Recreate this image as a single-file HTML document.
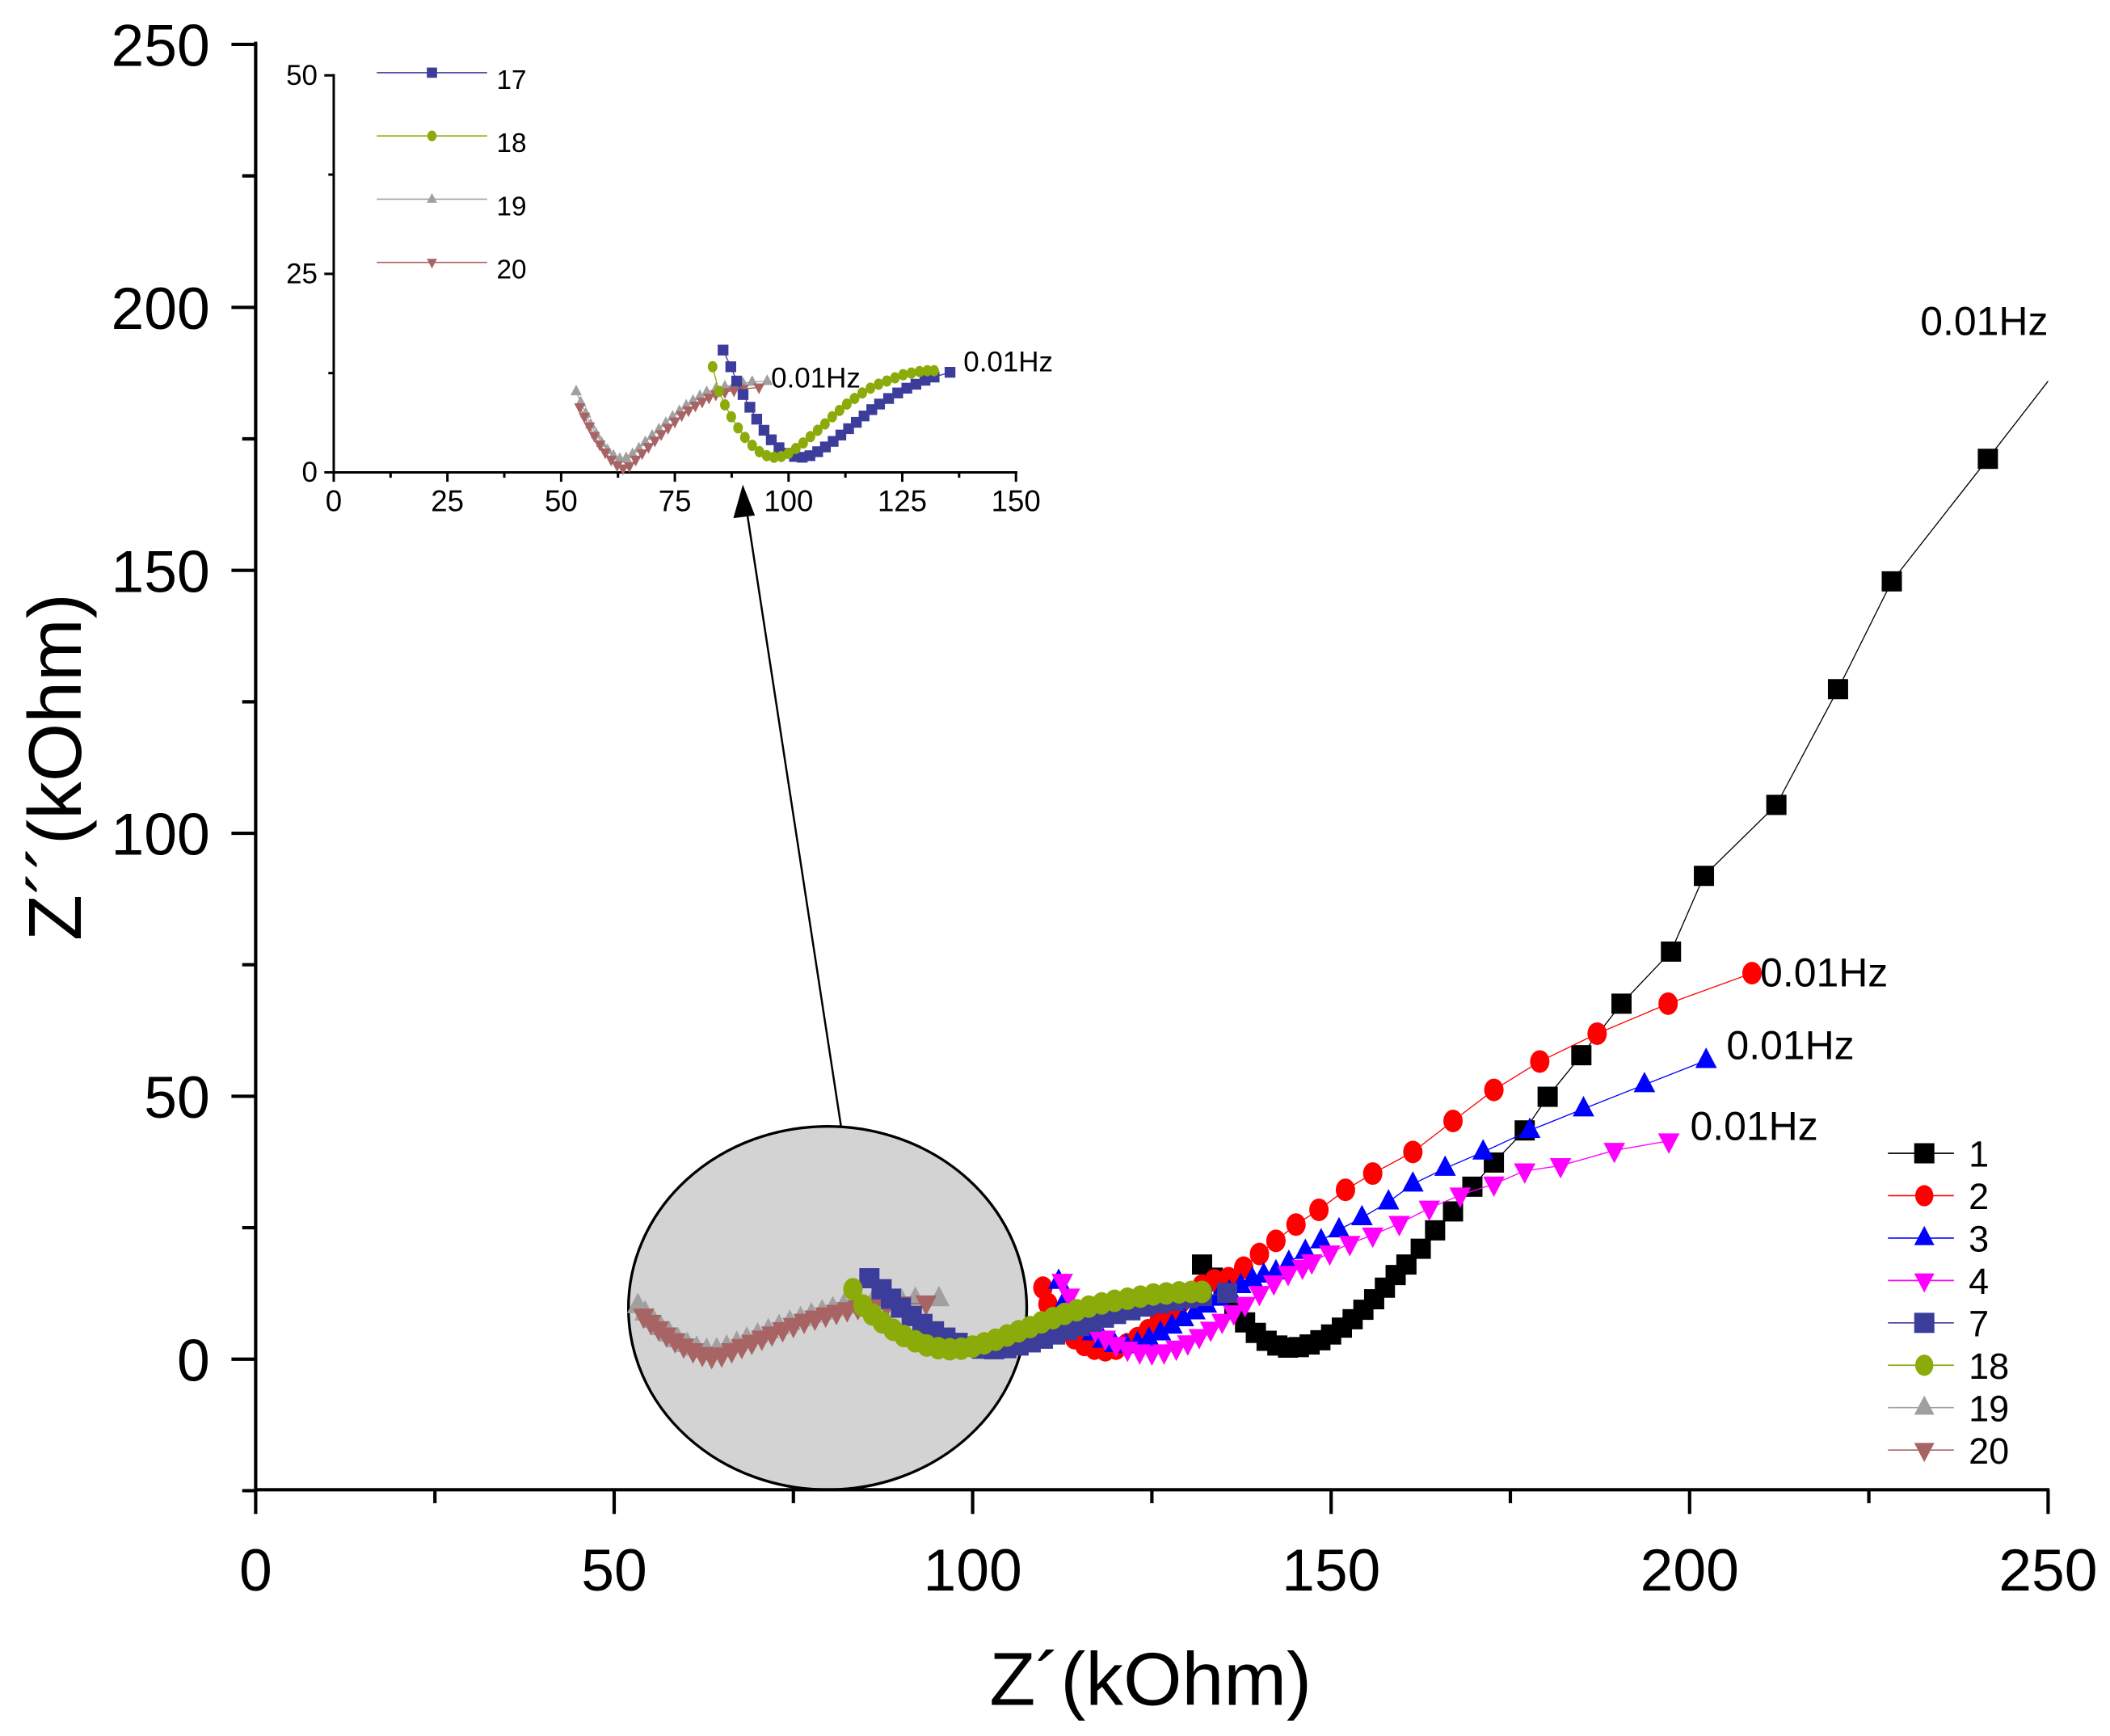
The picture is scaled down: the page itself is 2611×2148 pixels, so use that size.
<!DOCTYPE html>
<html><head><meta charset="utf-8"><style>
html,body{margin:0;padding:0;background:#fff}
svg{display:block}
text{font-family:"Liberation Sans",Arial,sans-serif}
</style></head><body>
<svg id="chart" width="2611" height="2148" viewBox="0 0 1568 1290" preserveAspectRatio="none" xmlns="http://www.w3.org/2000/svg">
<defs><clipPath id="mainclip"><rect x="190" y="20" width="1332" height="1087"/></clipPath></defs>
<g id="main"></g>
<g id="inset"></g>
</svg>
<script>
// ---- data ----
const s1x=[132,133.5,135,136.5,138,139.5,141,142.5,144,145.5,147,148.5,150,151.5,153,154.5,156,157.5,159,160.5,162.5,164.5,167,169.7,172.7,177,180.2,184.9,190.5,197.4,202,212.1,220.7,228.2,241.6,254];
const s1y=[18,15.5,12.5,9.5,7,5,3.5,2.6,2.2,2.3,2.8,3.6,4.7,6,7.6,9.4,11.4,13.6,16,18,21,24.5,28.1,32.8,37.4,43.5,49.9,57.8,67.6,77.5,91.9,105.4,127.4,147.9,171.2,193];
const s2x=[109.8,110.5,111.5,112.8,114.2,115.6,117,118.5,120,121.5,123,124.5,126,127.5,129,130.5,132,133.7,135.7,137.8,140,142.3,145.1,148.3,152,155.8,161.4,167,172.7,179.1,187.1,197,208.7];
const s2y=[13.6,10.5,8,5.8,4,2.7,2,1.7,2,2.8,4,5.5,7.2,9,10.8,12.5,14,15,15.4,17.4,20,22.5,25.6,28.4,32.2,35.3,39.4,45.3,51.2,56.6,61.9,67.6,73.4];
const s3x=[112,113,114,115.3,116.7,118.2,119.8,121.4,123,124.6,126.2,127.8,129.4,131,132.6,134.2,135.8,137.4,139,140.6,142.3,144.1,146.4,148.6,151.1,154.3,158,161.4,165.9,171.2,177.7,185.2,193.7,202.3];
const s3y=[14.8,11.5,9,6.8,5,3.6,2.8,2.6,3,3.8,5,6.3,7.7,9,10.3,11.6,12.8,14,15.2,16,16.6,18.4,20.5,22.5,24.6,26.9,29.9,33.3,36.3,39.4,43.5,47.6,52.2,56.8];
const s4x=[112.5,113.5,114.6,115.8,117.1,118.5,120,121.6,123.3,125,126.7,128.4,130,131.6,133.2,134.8,136.4,138,140,142,144,146,147.3,149.8,152.6,155.8,159.5,163.7,168,172.7,177,182,189.5,197.1];
const s4y=[14.8,12,9.5,7.3,5.5,4,2.8,1.9,1.4,1.2,1.4,2.1,3.1,4.3,5.7,7.2,8.8,10.4,12.5,14.5,16.3,17.5,18.5,20.2,22,23.6,25.8,28.7,31.2,33.3,35.8,36.8,39.7,41.5];
const s7x=[85.6,87.3,88.6,90,91.5,93,94.6,96.2,97.9,99.6,101.3,103,104.7,106.4,108.1,109.8,111.5,113.2,114.9,116.6,118.3,120,122,124,126,128,130,132,135.5];
const s7y=[15.4,13.3,11.5,9.8,8.2,6.7,5.3,4.1,3.1,2.4,2,1.9,2.1,2.6,3.2,3.9,4.7,5.5,6.3,7.1,7.9,8.6,9.3,10,10.6,11.1,11.6,12,12.6];
const s18x=[83.3,84.7,86,87.4,88.9,90.4,92,93.6,95.2,96.8,98.4,100,101.6,103.2,104.8,106.4,108,109.6,111.2,112.8,114.5,116.2,118,119.8,121.6,123.4,125.2,127,128.8,130.5,132];
const s18y=[13.3,10.2,8.5,7,5.6,4.4,3.4,2.6,2.1,1.9,2,2.4,3,3.7,4.5,5.3,6.1,7,7.8,8.6,9.3,10,10.6,11.1,11.5,11.9,12.3,12.5,12.7,12.8,12.8];
const s19x=[53.3,54.3,55.4,56.5,57.7,58.9,60.2,61.5,62.9,64.3,65.7,67.1,68.5,70,71.5,73,74.5,76,77.5,79,80.5,82,84,86,88,90,92,95.3];
const s19y=[10.2,8.8,7.4,6,4.8,3.7,2.8,2.1,1.7,1.8,2.3,3,3.8,4.6,5.4,6.2,7,7.7,8.4,9,9.6,10.1,10.5,10.8,11,11.2,11.4,11.5];
const s20x=[54.1,55.1,56.2,57.3,58.5,59.7,61,62.3,63.6,65,66.4,67.8,69.2,70.6,72,73.5,75,76.5,78,79.5,81,82.5,84,86,88,90,93.5];
const s20y=[8.2,7,5.8,4.6,3.5,2.5,1.6,0.9,0.5,0.8,1.6,2.4,3.2,4,4.8,5.6,6.4,7.2,7.8,8.4,8.9,9.4,9.8,10.1,10.3,10.5,10.7];
const xTicks=[0,50,100,150,200,250];
const yTicks=[0,50,100,150,200,250];
const insetXTicks=[0,25,50,75,100,125,150];
const insetYTicks=[0,25,50];

const NS='http://www.w3.org/2000/svg';
function mk(tag,attrs,parent,txt){const e=document.createElementNS(NS,tag);for(const k in attrs)e.setAttribute(k,attrs[k]);if(txt!==undefined)e.textContent=txt;parent.appendChild(e);return e;}
const main=document.getElementById('main');
const inset=document.getElementById('inset');

const sx=v=>190+v*(1332/250);
const sy=v=>1010-v*(977/250);
const ix=v=>248+v*(507/150);
const iy=v=>351-v*(295/50);

function marker(g,shape,x,y,r,color){
  let e;
  if(shape==='square') e=mk('rect',{x:x-r,y:y-r,width:2*r,height:2*r,fill:color},g);
  else if(shape==='circle') e=mk('ellipse',{cx:x,cy:y,rx:r*0.9,ry:r*1.05,fill:color},g);
  else if(shape==='up') e=mk('polygon',{points:`${x},${y-r*1.2} ${x-r},${y+r*0.7} ${x+r},${y+r*0.7}`,fill:color},g);
  else e=mk('polygon',{points:`${x},${y+r*1.2} ${x-r},${y-r*0.7} ${x+r},${y-r*0.7}`,fill:color},g);
  return e;
}
function series(parent,name,xs,ys,fx,fy,shape,color,r,clip){
  const g=mk('g',{},parent);
  
  
  if(clip) g.setAttribute('clip-path','url(#mainclip)');
  const pts=xs.map((v,i)=>fx(v)+','+fy(ys[i])).join(' ');
  const l=mk('polyline',{points:pts,fill:'none',stroke:color,'stroke-width':0.8},g);
  
  
  xs.forEach((v,i)=>{const m=marker(g,shape,fx(v),fy(ys[i]),r,color);
    
    });
}

const ell=mk('ellipse',{cx:615,cy:972,rx:148,ry:135,fill:'#d3d3d3',stroke:'#000','stroke-width':2},main);


const arr=mk('line',{x1:625,y1:837,x2:555,y2:380,stroke:'#000','stroke-width':1.5},main);


const ah=mk('polygon',{points:'552,360 545,385 561,383',fill:'#000'},main);



const ax=mk('g',{stroke:'#000','stroke-width':2.5,fill:'none'},main);


mk('line',{x1:190,y1:31,x2:190,y2:1108},ax);
mk('line',{x1:189,y1:1107,x2:1523,y2:1107},ax);
for(let v=-25;v<=250;v+=25){const y=sy(v);mk('line',{x1:v%50===0?172:180,y1:y,x2:190,y2:y},ax);}
for(let v=0;v<=250;v+=25){const x=sx(v);mk('line',{x1:x,y1:1107,x2:x,y2:v%50===0?1125:1117},ax);}
yTicks.forEach(v=>{const t=mk('text',{x:156,y:sy(v)+16,'font-size':44,'text-anchor':'end'},main,String(v));
  });
xTicks.forEach(v=>{const t=mk('text',{x:sx(v),y:1182,'font-size':44,'text-anchor':'middle'},main,String(v));
  });
const xt=mk('text',{x:855,y:1267,'font-size':56,'text-anchor':'middle'},main,'Z´(kOhm)');

const yt=mk('text',{x:0,y:0,'font-size':56,'text-anchor':'middle',transform:'translate(60,570) rotate(-90)'},main,'Z´´(kOhm)');


series(main,'series-19',s19x,s19y,sx,sy,'up','#a0a0a0',8,true);
series(main,'series-20',s20x,s20y,sx,sy,'down','#a86464',8,true);
series(main,'series-1',s1x,s1y,sx,sy,'square','#000000',7.5,true);
series(main,'series-2',s2x,s2y,sx,sy,'circle','#ff0000',8,true);
series(main,'series-3',s3x,s3y,sx,sy,'up','#0000ff',8,true);
series(main,'series-4',s4x,s4y,sx,sy,'down','#ff00ff',8,true);
series(main,'series-7',s7x,s7y,sx,sy,'square','#3c3c9a',7.5,true);
series(main,'series-18',s18x,s18y,sx,sy,'circle','#8aab0a',8,true);

[[1427,249,'0.01Hz'],[1308,733,'0.01Hz'],[1283,787,'0.01Hz'],[1256,847,'0.01Hz']].forEach(a=>{
  const t=mk('text',{x:a[0],y:a[1],'font-size':30},main,a[2]);
  });

const legItems=[['1','square','#000000'],['2','circle','#ff0000'],['3','up','#0000ff'],['4','down','#ff00ff'],['7','square','#3c3c9a'],['18','circle','#8aab0a'],['19','up','#a0a0a0'],['20','down','#a86464']];
const leg=mk('g',{},main);

legItems.forEach((it,i)=>{const y=857+i*31.5;
  const g=mk('g',{},leg);
  
  mk('line',{x1:1403,y1:y,x2:1452,y2:y,stroke:it[2],'stroke-width':1},g);
  marker(g,it[1],1430,y,7.5,it[2]);
  mk('text',{x:1463,y:y+10,'font-size':27},g,it[0]);});

const iax=mk('g',{stroke:'#000','stroke-width':1.8,fill:'none'},inset);

mk('line',{x1:248,y1:55,x2:248,y2:352},iax);
mk('line',{x1:247,y1:351,x2:756,y2:351},iax);
for(let v=0;v<=50;v+=12.5){const y=iy(v);mk('line',{x1:v%25===0?241:244,y1:y,x2:248,y2:y},iax);}
for(let v=0;v<=150;v+=12.5){const x=ix(v);mk('line',{x1:x,y1:351,x2:x,y2:v%25===0?358:355},iax);}
insetYTicks.forEach(v=>{const t=mk('text',{x:236,y:iy(v)+7,'font-size':21,'text-anchor':'end'},inset,String(v));
  });
insetXTicks.forEach(v=>{const t=mk('text',{x:ix(v),y:380,'font-size':22,'text-anchor':'middle'},inset,String(v));
  });

series(inset,'inset-series-19',s19x,s19y,ix,iy,'up','#a0a0a0',4.2,false);
series(inset,'inset-series-20',s20x,s20y,ix,iy,'down','#a86464',4.2,false);
series(inset,'inset-series-17',s7x,s7y,ix,iy,'square','#3c3c9a',4,false);
series(inset,'inset-series-18',s18x,s18y,ix,iy,'circle','#8aab0a',4,false);
[[573,288,'0.01Hz'],[716,276,'0.01Hz']].forEach(a=>{
  const t=mk('text',{x:a[0],y:a[1],'font-size':21},inset,a[2]);
  });
const iLeg=[['17','square','#3c3c9a'],['18','circle','#8aab0a'],['19','up','#a0a0a0'],['20','down','#a86464']];
const ileg=mk('g',{},inset);

iLeg.forEach((it,i)=>{const y=54+i*47;
  const g=mk('g',{},ileg);
  
  mk('line',{x1:280,y1:y,x2:362,y2:y,stroke:it[2],'stroke-width':1},g);
  marker(g,it[1],321,y,3.8,it[2]);
  mk('text',{x:369,y:y+12,'font-size':20},g,it[0]);});
</script>
</body></html>
